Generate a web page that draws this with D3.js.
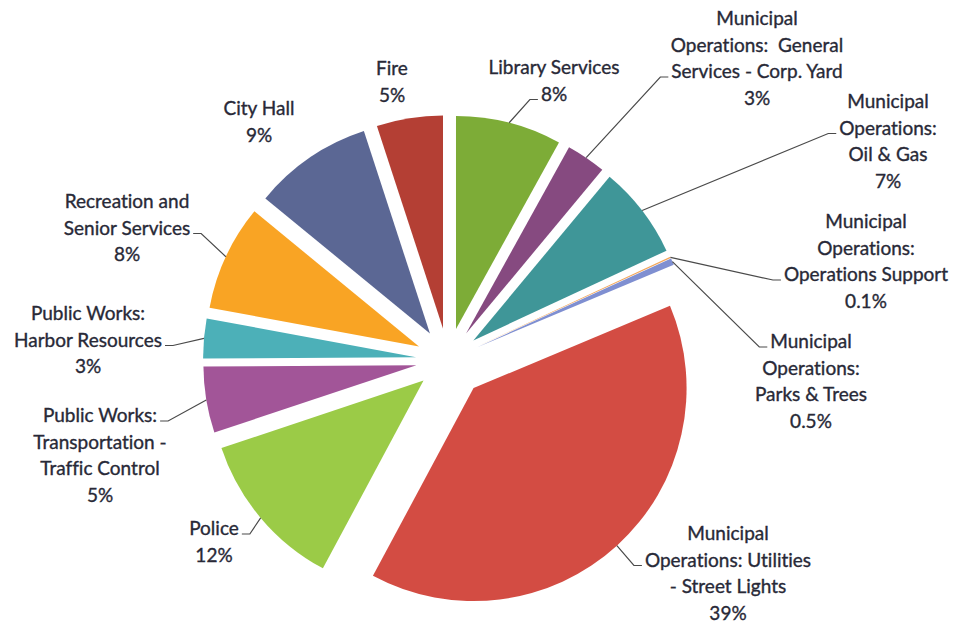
<!DOCTYPE html>
<html>
<head>
<meta charset="utf-8">
<script src="https://cdn.jsdelivr.net/npm/d3@7"></script>
<style>
  html, body { margin: 0; padding: 0; background: #ffffff; }
  svg { display: block; }
  .lbl text { font-family: Lato, "Open Sans", sans-serif; font-size: 19px; fill: #282937; stroke: #282937; stroke-width: 0.35px; white-space: pre; font-variant-ligatures: none; font-feature-settings: "liga" 0, "clig" 0; }
  .leader { fill: none; stroke: #4a4a4a; stroke-width: 1.2; }
</style>
</head>
<body>
<svg id="chart" width="958" height="628"></svg>
<script>
// Budget share by department, clockwise from 12 o'clock
const categories = [
  "Library Services",
  "Municipal\nOperations:  General\nServices - Corp. Yard",
  "Municipal\nOperations:\nOil & Gas",
  "Municipal\nOperations:\nOperations Support",
  "Municipal\nOperations:\nParks & Trees",
  "Municipal\nOperations: Utilities\n- Street Lights",
  "Police",
  "Public Works:\nTransportation -\nTraffic Control",
  "Public Works:\nHarbor Resources",
  "Recreation and\nSenior Services",
  "City Hall",
  "Fire"
];
const shares = [8, 3, 7, 0.1, 0.5, 39, 12, 5, 3, 8, 9, 5];

const sliceColors = [
  "#7dac37", "#864a80", "#3f9698", "#f2a65a", "#7f8fd1", "#d34c43",
  "#9bcb47", "#a25598", "#4cb0b8", "#f9a424", "#5b6794", "#b43f34"
];

// Label placement: centre x, first baseline, line the leader attaches to (-1 = none)
const labelLayout = [
  { cx: 554, y: 74,  leaderLine: 1 },
  { cx: 757, y: 25,  leaderLine: 2 },
  { cx: 888, y: 108, leaderLine: 1 },
  { cx: 866, y: 228, leaderLine: 2 },
  { cx: 811, y: 348, leaderLine: 0 },
  { cx: 728, y: 540, leaderLine: 1 },
  { cx: 214, y: 535, leaderLine: 0 },
  { cx: 100, y: 422, leaderLine: 0 },
  { cx: 88,  y: 320, leaderLine: 1 },
  { cx: 127, y: 208, leaderLine: 1 },
  { cx: 259, y: 115, leaderLine: -1 },
  { cx: 392, y: 75,  leaderLine: -1 }
];

const cx = 448, cy = 360, radius = 213;
const explodeDefault = 32;
const explodeLarge = 38;       // the largest slice is pulled out further
const lineHeight = 26.5;

const svg = d3.select("#chart");

const pie = d3.pie().sort(null).value(d => d.value).startAngle(0).endAngle(2 * Math.PI);
const rows = categories.map((c, i) => ({ name: c, value: shares[i], color: sliceColors[i], layout: labelLayout[i] }));
const arcsData = pie(rows);
const maxValue = d3.max(shares);

const arc = d3.arc().innerRadius(0).outerRadius(radius);

const unit = a => [Math.sin(a), -Math.cos(a)];

const g = svg.append("g").attr("transform", `translate(${cx},${cy})`);

g.selectAll("path.slice")
  .data(arcsData)
  .join("path")
  .attr("class", "slice")
  .attr("fill", d => d.data.color)
  .attr("d", arc)
  .attr("transform", d => {
    const mid = (d.startAngle + d.endAngle) / 2;
    const e = d.data.value === maxValue ? explodeLarge : explodeDefault;
    const [ux, uy] = unit(mid);
    return `translate(${ux * e},${uy * e})`;
  });

// Labels and leader lines
const labels = svg.append("g").attr("class", "lbl");
const leaders = svg.append("g");

arcsData.forEach(d => {
  const lay = d.data.layout;
  const lines = d.data.name.split("\n").concat([d.data.value + "%"]);
  const t = labels.append("g");
  const texts = lines.map((ln, k) =>
    t.append("text")
      .attr("x", lay.cx)
      .attr("y", lay.y + k * lineHeight)
      .attr("text-anchor", "middle")
      .text(ln)
  );
  if (lay.leaderLine < 0) return;

  const mid = (d.startAngle + d.endAngle) / 2;
  const e = d.data.value === maxValue ? explodeLarge : explodeDefault;
  const [ux, uy] = unit(mid);
  const px = cx + ux * (radius + e);
  const py = cy + uy * (radius + e);

  const bb = texts[lay.leaderLine].node().getBBox();
  const yLine = lay.y + lay.leaderLine * lineHeight - 1;
  const onRight = lay.cx > px;   // label sits to the right of the slice
  const x0 = onRight ? bb.x - 3 : bb.x + bb.width + 3;
  const x1 = onRight ? x0 - 8 : x0 + 8;

  leaders.append("path")
    .attr("class", "leader")
    .attr("d", `M${x0},${yLine}H${x1}L${px},${py}`);
});
</script>
</body>
</html>
